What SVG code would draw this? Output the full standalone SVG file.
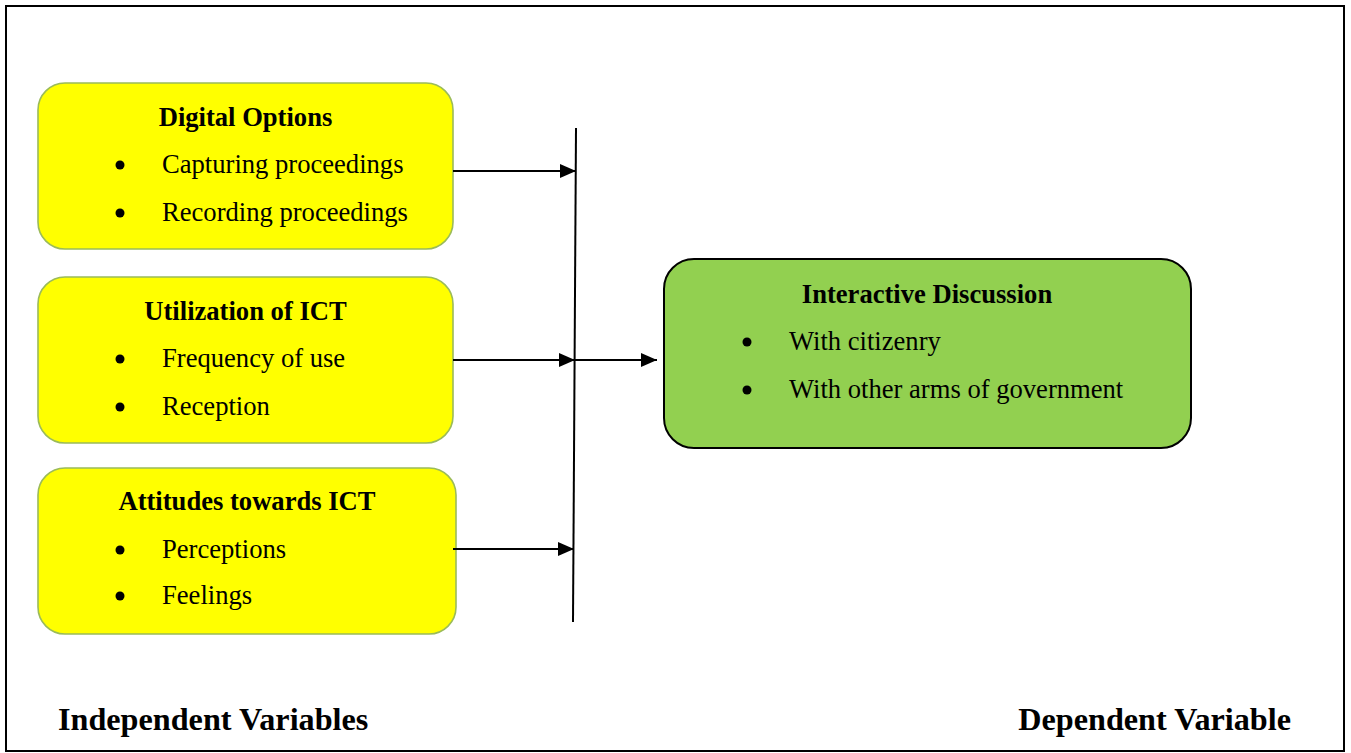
<svg xmlns="http://www.w3.org/2000/svg" width="1351" height="753" viewBox="0 0 1351 753">
<defs>
<style>
.t{font-family:"Liberation Serif","Times New Roman",serif;font-size:26.6px;fill:#000}
.b{font-weight:bold}
.yb{fill:#ffff00;stroke:#9bbb59;stroke-width:1.6}
.gb{fill:#92d050;stroke:#000;stroke-width:2}
.ln{stroke:#000;stroke-width:2;fill:none}
.lbl{font-family:"Liberation Serif","Times New Roman",serif;font-size:32.2px;font-weight:bold;fill:#000}
</style>
<marker id="ah" markerWidth="17" markerHeight="16" refX="16" refY="8" orient="auto" markerUnits="userSpaceOnUse">
<path d="M0,1 L16,8 L0,15 Z" fill="#000"/>
</marker>
</defs>
<rect x="0" y="0" width="1351" height="753" fill="#fff"/>
<rect x="6" y="6" width="1338" height="745" fill="none" stroke="#000" stroke-width="2"/>

<g id="node-digital">
<rect class="yb" x="38" y="83" width="415" height="166" rx="27"/>
<text class="t b" x="245.5" y="126" text-anchor="middle">Digital Options</text>
<circle cx="120" cy="165" r="4.5"/>
<text class="t" x="162" y="173">Capturing proceedings</text>
<circle cx="120" cy="213" r="4.5"/>
<text class="t" x="162" y="221">Recording proceedings</text>
</g>

<g id="node-utilization">
<rect class="yb" x="38" y="277" width="415" height="166" rx="27"/>
<text class="t b" x="245.5" y="320" text-anchor="middle">Utilization of ICT</text>
<circle cx="120" cy="359" r="4.5"/>
<text class="t" x="162" y="367">Frequency of use</text>
<circle cx="120" cy="407" r="4.5"/>
<text class="t" x="162" y="415">Reception</text>
</g>

<g id="node-attitudes">
<rect class="yb" x="38" y="468" width="418" height="166" rx="27"/>
<text class="t b" x="247" y="510" text-anchor="middle">Attitudes towards ICT</text>
<circle cx="120" cy="550" r="4.5"/>
<text class="t" x="162" y="558">Perceptions</text>
<circle cx="120" cy="596" r="4.5"/>
<text class="t" x="162" y="604">Feelings</text>
</g>

<g id="node-interactive">
<rect class="gb" x="664" y="259" width="527" height="189" rx="30"/>
<text class="t b" x="927" y="303" text-anchor="middle">Interactive Discussion</text>
<circle cx="747" cy="342" r="4.5"/>
<text class="t" x="789" y="350">With citizenry</text>
<circle cx="747" cy="390" r="4.5"/>
<text class="t" x="789" y="398">With other arms of government</text>
</g>

<g id="connectors">
<line class="ln" x1="576" y1="128" x2="573" y2="622"/>
<line class="ln" x1="453" y1="171" x2="576" y2="171" marker-end="url(#ah)"/>
<line class="ln" x1="453" y1="360" x2="575" y2="360" marker-end="url(#ah)"/>
<line class="ln" x1="575" y1="360" x2="657" y2="360" marker-end="url(#ah)"/>
<line class="ln" x1="453" y1="549" x2="574" y2="549" marker-end="url(#ah)"/>
</g>

<text class="lbl" x="58" y="730">Independent Variables</text>
<text class="lbl" x="1291" y="730" text-anchor="end">Dependent Variable</text>
</svg>
